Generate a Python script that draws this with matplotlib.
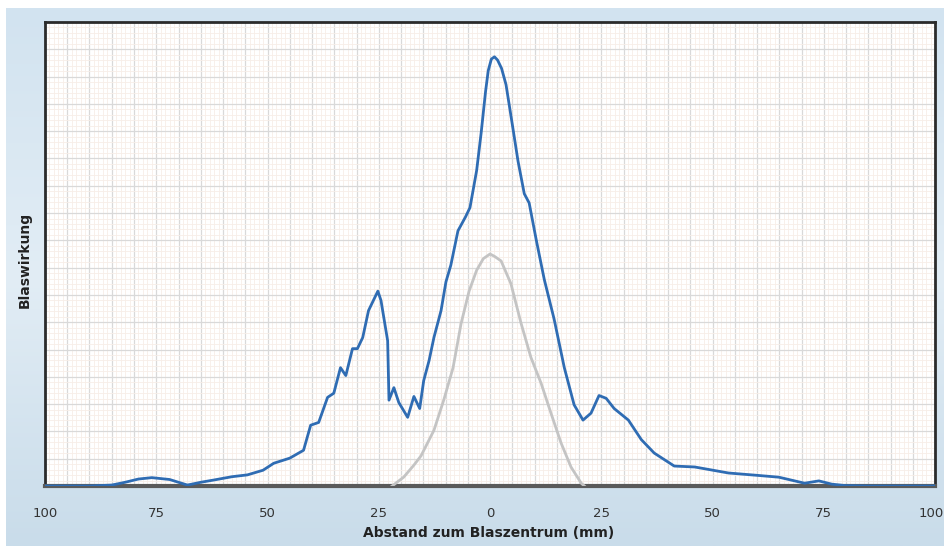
import numpy as np
import matplotlib
matplotlib.use("Agg")
import matplotlib.pyplot as plt
from matplotlib.ticker import MultipleLocator
from matplotlib.colors import LinearSegmentedColormap

# blue curve: measured blowing effect (x in mm, arbitrary y units 0-100)
blue_x = [-100, -90, -85, -82, -79, -76, -72, -68, -65, -62, -58, -54.5, -51, -48.6,
          -45, -41.9, -40.3, -38.5, -36.5, -35.1, -33.6, -32.4, -30.9, -29.8, -28.6,
          -27.3, -25.2, -24.5, -23, -22.7, -21.6, -20.5, -18.5, -17.1, -15.8, -14.9,
          -13.7, -12.6, -11, -9.9, -8.8, -7.2, -5.5, -4.5, -3, -2, -1, -0.4, 0.3, 1.0,
          1.7, 2.6, 3.6, 5, 6.3, 7.7, 8.8, 10.4, 12.2, 14.4, 16.7, 18.9, 20.9, 22.7,
          24.5, 26.1, 27.9, 31.1, 34, 36.9, 41.4, 46, 53.6, 60, 64.9, 70.7, 73.9, 76.8,
          79.7, 85, 100]
blue_y = [0, 0, 0.2, 0.8, 1.5, 1.8, 1.4, 0.2, 0.8, 1.3, 2.0, 2.4, 3.4, 4.9,
          6.0, 7.7, 13.1, 13.7, 19.1, 20, 25.5, 23.8, 29.6, 29.6, 32,
          37.8, 42, 40, 31.3, 18.5, 21.2, 18.0, 14.8, 19.3, 16.7, 22.7,
          27, 32, 37.8, 44, 47.6, 55, 58, 60, 68, 76, 85, 89.5, 92, 92.5,
          91.8, 90, 86.5, 78, 70, 63, 61, 53, 44.5, 36, 25.5, 17.5, 14.2, 15.7,
          19.5, 18.9, 16.7, 14.2, 10, 7.1, 4.3, 4.1, 2.8, 2.3, 1.9, 0.6, 1.1, 0.4,
          0.1, 0, 0]

# gray curve: reference profile
gray_x = [-22, -19.4, -17.1, -15.5, -12.6, -10.4, -8.3, -6.5, -4.7, -3, -1.5, 0, 1,
          2.5, 4.7, 7, 9.2, 11.5, 13.7, 16, 18.2, 20.5, 21.2]
gray_y = [0, 1.9, 4.5, 6.5, 12, 18.5, 25.5, 35, 42, 46.5, 49, 50, 49.5,
          48.5, 43.6, 35, 27.7, 22.1, 15.7, 9.2, 4.1, 0.6, 0]

tick_pos = [-100, -75, -50, -25, 0, 25, 50, 75, 100]
tick_lbl = ["100", "75", "50", "25", "0", "25", "50", "75", "100"]

fig = plt.figure(figsize=(9.44, 5.46), dpi=100)
fig.patch.set_facecolor("white")

# light blue panel behind the chart
bg = fig.add_axes([6 / 944, 0, 1 - 6 / 944, 1 - 8 / 546], zorder=0)
cmap = LinearSegmentedColormap.from_list("bg", ["#d2e3f0", "#e2edf5", "#c9dcea"])
bg.imshow(np.linspace(0, 1, 200).reshape(-1, 1), aspect="auto", cmap=cmap,
          extent=[0, 1, 0, 1])
bg.axis("off")

ax = fig.add_axes([45 / 944, 60 / 546, 890 / 944, 464 / 546], zorder=1)
ax.set_facecolor("white")
ax.set_xlim(-100, 100)
ax.set_ylim(0, 100)

ax.xaxis.set_major_locator(MultipleLocator(5))
ax.xaxis.set_minor_locator(MultipleLocator(1))
ax.yaxis.set_major_locator(MultipleLocator(100 / 17))
ax.yaxis.set_minor_locator(MultipleLocator(100 / 85))
ax.grid(which="major", color="#d9d9d9", lw=0.9)
ax.grid(which="minor", color="#f7eee8", lw=0.6)
ax.set_axisbelow(True)

ax.plot(gray_x, gray_y, color="#c4c4c4", lw=2.0, solid_joinstyle="round", zorder=3)
ax.plot(blue_x, blue_y, color="#2f6cb3", lw=2.0, solid_joinstyle="round", zorder=4)

ax.tick_params(which="both", length=0, left=False, labelleft=False)
ax.set_xticklabels([])
for p, t in zip(tick_pos, tick_lbl):
    # keep the last label inside the figure edge
    ha = "right" if p == tick_pos[-1] else "center"
    xp = p + 2 if p == tick_pos[-1] else p
    ax.text(xp, -4.5, t, ha=ha, va="top", fontsize=9.5, color="#333333",
            family=["Liberation Sans Narrow", "DejaVu Sans"])

for s in ["left", "top", "right"]:
    ax.spines[s].set_color("#2b2b2b")
    ax.spines[s].set_linewidth(2)
ax.spines["bottom"].set_color("#5a5a5a")
ax.spines["bottom"].set_linewidth(3)

fig.text(489 / 944, 1 - 533 / 546, "Abstand zum Blaszentrum (mm)", ha="center",
         va="center", fontsize=10, fontweight="bold", color="#222222")
fig.text(25 / 944, 1 - 260 / 546, "Blaswirkung", ha="center", va="center",
         rotation=90, fontsize=10, fontweight="bold", color="#222222")

fig.savefig("out.png", dpi=100)
